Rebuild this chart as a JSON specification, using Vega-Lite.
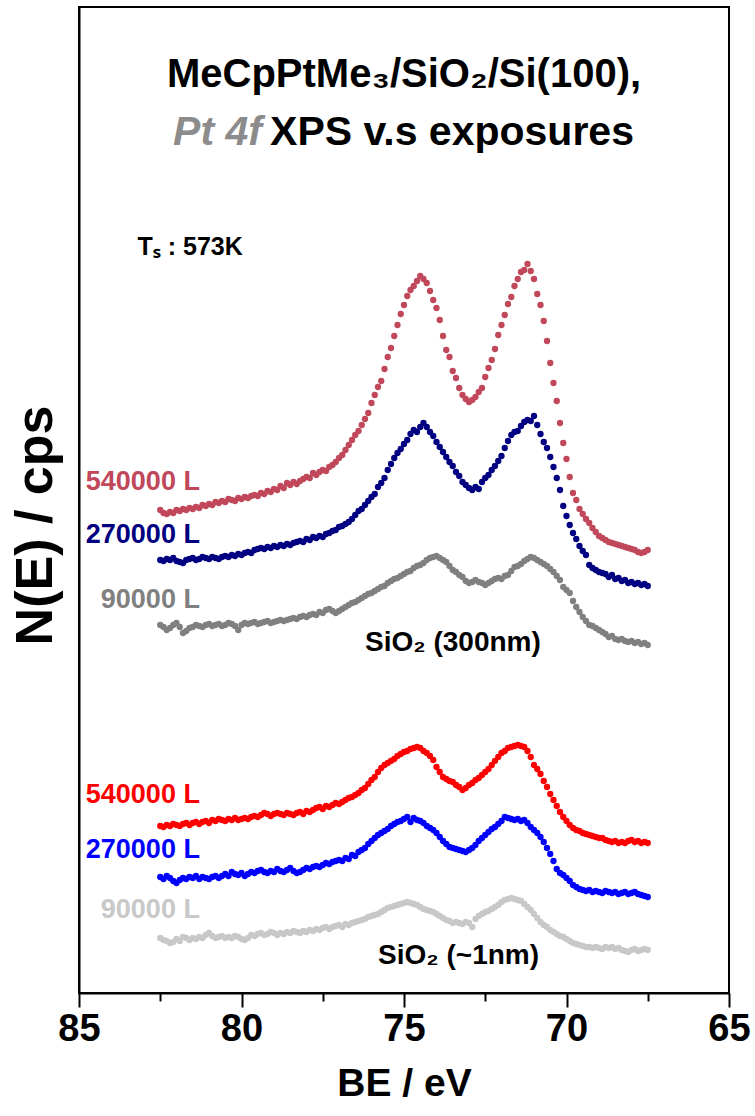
{
"$schema": "https://vega.github.io/schema/vega-lite/v6.json",
"width": 650, "height": 986,
"autosize": {"type": "none"},
"padding": {"left": 79, "top": 7, "right": 26, "bottom": 123},
"background": "white",
"config": {"view": {"stroke": "black", "strokeWidth": 2}},
"datasets": {
"pts": [
{"s":"a","x":82.5,"y":483},{"s":"a","x":82.4,"y":480},{"s":"a","x":82.3,"y":479},{"s":"a","x":82.2,"y":481},{"s":"a","x":82.1,"y":480},{"s":"a","x":82.0,"y":483},{"s":"a","x":81.9,"y":482},{"s":"a","x":81.8,"y":484},{"s":"a","x":81.7,"y":483},{"s":"a","x":81.6,"y":485},{"s":"a","x":81.5,"y":484},{"s":"a","x":81.4,"y":486},{"s":"a","x":81.3,"y":485},{"s":"a","x":81.2,"y":488},{"s":"a","x":81.1,"y":487},{"s":"a","x":81.0,"y":489},{"s":"a","x":80.9,"y":488},{"s":"a","x":80.8,"y":491},{"s":"a","x":80.7,"y":490},{"s":"a","x":80.6,"y":492},{"s":"a","x":80.5,"y":491},{"s":"a","x":80.4,"y":494},{"s":"a","x":80.3,"y":493},{"s":"a","x":80.2,"y":492},{"s":"a","x":80.1,"y":495},{"s":"a","x":80.0,"y":494},{"s":"a","x":79.9,"y":496},{"s":"a","x":79.8,"y":495},{"s":"a","x":79.7,"y":497},{"s":"a","x":79.6,"y":498},{"s":"a","x":79.5,"y":497},{"s":"a","x":79.4,"y":500},{"s":"a","x":79.3,"y":499},{"s":"a","x":79.2,"y":502},{"s":"a","x":79.1,"y":501},{"s":"a","x":79.0,"y":504},{"s":"a","x":78.9,"y":503},{"s":"a","x":78.8,"y":507},{"s":"a","x":78.7,"y":505},{"s":"a","x":78.6,"y":510},{"s":"a","x":78.5,"y":508},{"s":"a","x":78.4,"y":511},{"s":"a","x":78.3,"y":509},{"s":"a","x":78.2,"y":512},{"s":"a","x":78.1,"y":514},{"s":"a","x":78.0,"y":516},{"s":"a","x":77.9,"y":515},{"s":"a","x":77.8,"y":520},{"s":"a","x":77.7,"y":518},{"s":"a","x":77.6,"y":521},{"s":"a","x":77.5,"y":523},{"s":"a","x":77.4,"y":522},{"s":"a","x":77.3,"y":526},{"s":"a","x":77.2,"y":528},{"s":"a","x":77.1,"y":531},{"s":"a","x":77.0,"y":535},{"s":"a","x":76.9,"y":538},{"s":"a","x":76.8,"y":543},{"s":"a","x":76.7,"y":548},{"s":"a","x":76.6,"y":553},{"s":"a","x":76.5,"y":558},{"s":"a","x":76.4,"y":562},{"s":"a","x":76.3,"y":568},{"s":"a","x":76.2,"y":574},{"s":"a","x":76.1,"y":580},{"s":"a","x":76.0,"y":590},{"s":"a","x":75.9,"y":598},{"s":"a","x":75.8,"y":606},{"s":"a","x":75.7,"y":612},{"s":"a","x":75.6,"y":624},{"s":"a","x":75.5,"y":636},{"s":"a","x":75.4,"y":645},{"s":"a","x":75.3,"y":657},{"s":"a","x":75.2,"y":668},{"s":"a","x":75.1,"y":679},{"s":"a","x":75.0,"y":688},{"s":"a","x":74.9,"y":697},{"s":"a","x":74.8,"y":703},{"s":"a","x":74.7,"y":707},{"s":"a","x":74.6,"y":712},{"s":"a","x":74.5,"y":717},{"s":"a","x":74.4,"y":714},{"s":"a","x":74.3,"y":710},{"s":"a","x":74.2,"y":702},{"s":"a","x":74.1,"y":693},{"s":"a","x":74.0,"y":685},{"s":"a","x":73.9,"y":673},{"s":"a","x":73.8,"y":657},{"s":"a","x":73.7,"y":643},{"s":"a","x":73.6,"y":636},{"s":"a","x":73.5,"y":622},{"s":"a","x":73.4,"y":615},{"s":"a","x":73.3,"y":605},{"s":"a","x":73.2,"y":598},{"s":"a","x":73.1,"y":594},{"s":"a","x":73.0,"y":591},{"s":"a","x":72.9,"y":593},{"s":"a","x":72.8,"y":596},{"s":"a","x":72.7,"y":601},{"s":"a","x":72.6,"y":605},{"s":"a","x":72.5,"y":616},{"s":"a","x":72.4,"y":625},{"s":"a","x":72.3,"y":633},{"s":"a","x":72.2,"y":644},{"s":"a","x":72.1,"y":658},{"s":"a","x":72.0,"y":668},{"s":"a","x":71.9,"y":678},{"s":"a","x":71.8,"y":689},{"s":"a","x":71.7,"y":696},{"s":"a","x":71.6,"y":707},{"s":"a","x":71.5,"y":714},{"s":"a","x":71.4,"y":721},{"s":"a","x":71.3,"y":723},{"s":"a","x":71.2,"y":729},{"s":"a","x":71.1,"y":722},{"s":"a","x":71.0,"y":714},{"s":"a","x":70.9,"y":699},{"s":"a","x":70.8,"y":688},{"s":"a","x":70.7,"y":672},{"s":"a","x":70.6,"y":652},{"s":"a","x":70.5,"y":630},{"s":"a","x":70.4,"y":610},{"s":"a","x":70.3,"y":592},{"s":"a","x":70.2,"y":570},{"s":"a","x":70.1,"y":550},{"s":"a","x":70.0,"y":534},{"s":"a","x":69.9,"y":516},{"s":"a","x":69.8,"y":500},{"s":"a","x":69.7,"y":493},{"s":"a","x":69.6,"y":484},{"s":"a","x":69.5,"y":479},{"s":"a","x":69.4,"y":474},{"s":"a","x":69.3,"y":470},{"s":"a","x":69.2,"y":465},{"s":"a","x":69.1,"y":461},{"s":"a","x":69.0,"y":457},{"s":"a","x":68.9,"y":455},{"s":"a","x":68.8,"y":453},{"s":"a","x":68.7,"y":451},{"s":"a","x":68.6,"y":450},{"s":"a","x":68.5,"y":449},{"s":"a","x":68.4,"y":448},{"s":"a","x":68.3,"y":447},{"s":"a","x":68.2,"y":446},{"s":"a","x":68.1,"y":445},{"s":"a","x":68.0,"y":444},{"s":"a","x":67.9,"y":443},{"s":"a","x":67.8,"y":441},{"s":"a","x":67.7,"y":440},{"s":"a","x":67.6,"y":441},{"s":"a","x":67.5,"y":443},
{"s":"b","x":82.5,"y":433},{"s":"b","x":82.4,"y":432},{"s":"b","x":82.3,"y":434},{"s":"b","x":82.2,"y":433},{"s":"b","x":82.1,"y":435},{"s":"b","x":82.0,"y":432},{"s":"b","x":81.9,"y":431},{"s":"b","x":81.8,"y":430},{"s":"b","x":81.7,"y":433},{"s":"b","x":81.6,"y":434},{"s":"b","x":81.5,"y":435},{"s":"b","x":81.4,"y":433},{"s":"b","x":81.3,"y":434},{"s":"b","x":81.2,"y":436},{"s":"b","x":81.1,"y":435},{"s":"b","x":81.0,"y":434},{"s":"b","x":80.9,"y":436},{"s":"b","x":80.8,"y":435},{"s":"b","x":80.7,"y":434},{"s":"b","x":80.6,"y":436},{"s":"b","x":80.5,"y":437},{"s":"b","x":80.4,"y":436},{"s":"b","x":80.3,"y":438},{"s":"b","x":80.2,"y":437},{"s":"b","x":80.1,"y":439},{"s":"b","x":80.0,"y":438},{"s":"b","x":79.9,"y":440},{"s":"b","x":79.8,"y":441},{"s":"b","x":79.7,"y":440},{"s":"b","x":79.6,"y":443},{"s":"b","x":79.5,"y":444},{"s":"b","x":79.4,"y":445},{"s":"b","x":79.3,"y":444},{"s":"b","x":79.2,"y":446},{"s":"b","x":79.1,"y":445},{"s":"b","x":79.0,"y":447},{"s":"b","x":78.9,"y":446},{"s":"b","x":78.8,"y":448},{"s":"b","x":78.7,"y":447},{"s":"b","x":78.6,"y":449},{"s":"b","x":78.5,"y":448},{"s":"b","x":78.4,"y":450},{"s":"b","x":78.3,"y":451},{"s":"b","x":78.2,"y":452},{"s":"b","x":78.1,"y":451},{"s":"b","x":78.0,"y":454},{"s":"b","x":77.9,"y":453},{"s":"b","x":77.8,"y":456},{"s":"b","x":77.7,"y":455},{"s":"b","x":77.6,"y":457},{"s":"b","x":77.5,"y":456},{"s":"b","x":77.4,"y":459},{"s":"b","x":77.3,"y":460},{"s":"b","x":77.2,"y":462},{"s":"b","x":77.1,"y":463},{"s":"b","x":77.0,"y":466},{"s":"b","x":76.9,"y":467},{"s":"b","x":76.8,"y":469},{"s":"b","x":76.7,"y":471},{"s":"b","x":76.6,"y":474},{"s":"b","x":76.5,"y":478},{"s":"b","x":76.4,"y":482},{"s":"b","x":76.3,"y":484},{"s":"b","x":76.2,"y":488},{"s":"b","x":76.1,"y":492},{"s":"b","x":76.0,"y":496},{"s":"b","x":75.9,"y":499},{"s":"b","x":75.8,"y":506},{"s":"b","x":75.7,"y":510},{"s":"b","x":75.6,"y":515},{"s":"b","x":75.5,"y":523},{"s":"b","x":75.4,"y":529},{"s":"b","x":75.3,"y":535},{"s":"b","x":75.2,"y":540},{"s":"b","x":75.1,"y":544},{"s":"b","x":75.0,"y":549},{"s":"b","x":74.9,"y":553},{"s":"b","x":74.8,"y":559},{"s":"b","x":74.7,"y":563},{"s":"b","x":74.6,"y":561},{"s":"b","x":74.5,"y":566},{"s":"b","x":74.4,"y":570},{"s":"b","x":74.3,"y":566},{"s":"b","x":74.2,"y":561},{"s":"b","x":74.1,"y":557},{"s":"b","x":74.0,"y":551},{"s":"b","x":73.9,"y":546},{"s":"b","x":73.8,"y":541},{"s":"b","x":73.7,"y":536},{"s":"b","x":73.6,"y":531},{"s":"b","x":73.5,"y":527},{"s":"b","x":73.4,"y":521},{"s":"b","x":73.3,"y":517},{"s":"b","x":73.2,"y":511},{"s":"b","x":73.1,"y":508},{"s":"b","x":73.0,"y":505},{"s":"b","x":72.9,"y":503},{"s":"b","x":72.8,"y":506},{"s":"b","x":72.7,"y":504},{"s":"b","x":72.6,"y":511},{"s":"b","x":72.5,"y":515},{"s":"b","x":72.4,"y":518},{"s":"b","x":72.3,"y":523},{"s":"b","x":72.2,"y":527},{"s":"b","x":72.1,"y":532},{"s":"b","x":72.0,"y":537},{"s":"b","x":71.9,"y":545},{"s":"b","x":71.8,"y":552},{"s":"b","x":71.7,"y":558},{"s":"b","x":71.6,"y":561},{"s":"b","x":71.5,"y":562},{"s":"b","x":71.4,"y":567},{"s":"b","x":71.3,"y":571},{"s":"b","x":71.2,"y":573},{"s":"b","x":71.1,"y":572},{"s":"b","x":71.0,"y":577},{"s":"b","x":70.9,"y":568},{"s":"b","x":70.8,"y":559},{"s":"b","x":70.7,"y":551},{"s":"b","x":70.6,"y":545},{"s":"b","x":70.5,"y":536},{"s":"b","x":70.4,"y":526},{"s":"b","x":70.3,"y":515},{"s":"b","x":70.2,"y":503},{"s":"b","x":70.1,"y":487},{"s":"b","x":70.0,"y":477},{"s":"b","x":69.9,"y":468},{"s":"b","x":69.8,"y":460},{"s":"b","x":69.7,"y":454},{"s":"b","x":69.6,"y":447},{"s":"b","x":69.5,"y":442},{"s":"b","x":69.4,"y":438},{"s":"b","x":69.3,"y":428},{"s":"b","x":69.2,"y":425},{"s":"b","x":69.1,"y":423},{"s":"b","x":69.0,"y":421},{"s":"b","x":68.9,"y":420},{"s":"b","x":68.8,"y":419},{"s":"b","x":68.7,"y":416},{"s":"b","x":68.6,"y":418},{"s":"b","x":68.5,"y":414},{"s":"b","x":68.4,"y":415},{"s":"b","x":68.3,"y":412},{"s":"b","x":68.2,"y":413},{"s":"b","x":68.1,"y":410},{"s":"b","x":68.0,"y":411},{"s":"b","x":67.9,"y":409},{"s":"b","x":67.8,"y":410},{"s":"b","x":67.7,"y":408},{"s":"b","x":67.6,"y":409},{"s":"b","x":67.5,"y":407},
{"s":"c","x":82.5,"y":368},{"s":"c","x":82.4,"y":366},{"s":"c","x":82.3,"y":363},{"s":"c","x":82.2,"y":365},{"s":"c","x":82.1,"y":368},{"s":"c","x":82.0,"y":370},{"s":"c","x":81.9,"y":366},{"s":"c","x":81.8,"y":360},{"s":"c","x":81.7,"y":362},{"s":"c","x":81.6,"y":365},{"s":"c","x":81.5,"y":366},{"s":"c","x":81.4,"y":368},{"s":"c","x":81.3,"y":367},{"s":"c","x":81.2,"y":366},{"s":"c","x":81.1,"y":368},{"s":"c","x":81.0,"y":369},{"s":"c","x":80.9,"y":367},{"s":"c","x":80.8,"y":368},{"s":"c","x":80.7,"y":369},{"s":"c","x":80.6,"y":367},{"s":"c","x":80.5,"y":368},{"s":"c","x":80.4,"y":370},{"s":"c","x":80.3,"y":369},{"s":"c","x":80.2,"y":367},{"s":"c","x":80.1,"y":363},{"s":"c","x":80.0,"y":368},{"s":"c","x":79.9,"y":370},{"s":"c","x":79.8,"y":369},{"s":"c","x":79.7,"y":370},{"s":"c","x":79.6,"y":371},{"s":"c","x":79.5,"y":369},{"s":"c","x":79.4,"y":370},{"s":"c","x":79.3,"y":371},{"s":"c","x":79.2,"y":372},{"s":"c","x":79.1,"y":370},{"s":"c","x":79.0,"y":371},{"s":"c","x":78.9,"y":372},{"s":"c","x":78.8,"y":373},{"s":"c","x":78.7,"y":372},{"s":"c","x":78.6,"y":373},{"s":"c","x":78.5,"y":374},{"s":"c","x":78.4,"y":375},{"s":"c","x":78.3,"y":374},{"s":"c","x":78.2,"y":376},{"s":"c","x":78.1,"y":377},{"s":"c","x":78.0,"y":376},{"s":"c","x":77.9,"y":378},{"s":"c","x":77.8,"y":379},{"s":"c","x":77.7,"y":378},{"s":"c","x":77.6,"y":381},{"s":"c","x":77.5,"y":380},{"s":"c","x":77.4,"y":383},{"s":"c","x":77.3,"y":384},{"s":"c","x":77.2,"y":382},{"s":"c","x":77.1,"y":380},{"s":"c","x":77.0,"y":382},{"s":"c","x":76.9,"y":384},{"s":"c","x":76.8,"y":386},{"s":"c","x":76.7,"y":388},{"s":"c","x":76.6,"y":390},{"s":"c","x":76.5,"y":391},{"s":"c","x":76.4,"y":393},{"s":"c","x":76.3,"y":395},{"s":"c","x":76.2,"y":397},{"s":"c","x":76.1,"y":399},{"s":"c","x":76.0,"y":400},{"s":"c","x":75.9,"y":402},{"s":"c","x":75.8,"y":404},{"s":"c","x":75.7,"y":406},{"s":"c","x":75.6,"y":407},{"s":"c","x":75.5,"y":410},{"s":"c","x":75.4,"y":412},{"s":"c","x":75.3,"y":414},{"s":"c","x":75.2,"y":415},{"s":"c","x":75.1,"y":417},{"s":"c","x":75.0,"y":419},{"s":"c","x":74.9,"y":421},{"s":"c","x":74.8,"y":422},{"s":"c","x":74.7,"y":425},{"s":"c","x":74.6,"y":427},{"s":"c","x":74.5,"y":428},{"s":"c","x":74.4,"y":430},{"s":"c","x":74.3,"y":433},{"s":"c","x":74.2,"y":435},{"s":"c","x":74.1,"y":436},{"s":"c","x":74.0,"y":437},{"s":"c","x":73.9,"y":435},{"s":"c","x":73.8,"y":433},{"s":"c","x":73.7,"y":431},{"s":"c","x":73.6,"y":427},{"s":"c","x":73.5,"y":423},{"s":"c","x":73.4,"y":421},{"s":"c","x":73.3,"y":418},{"s":"c","x":73.2,"y":416},{"s":"c","x":73.1,"y":412},{"s":"c","x":73.0,"y":410},{"s":"c","x":72.9,"y":411},{"s":"c","x":72.8,"y":413},{"s":"c","x":72.7,"y":411},{"s":"c","x":72.6,"y":410},{"s":"c","x":72.5,"y":408},{"s":"c","x":72.4,"y":410},{"s":"c","x":72.3,"y":412},{"s":"c","x":72.2,"y":414},{"s":"c","x":72.1,"y":415},{"s":"c","x":72.0,"y":414},{"s":"c","x":71.9,"y":417},{"s":"c","x":71.8,"y":418},{"s":"c","x":71.7,"y":422},{"s":"c","x":71.6,"y":426},{"s":"c","x":71.5,"y":427},{"s":"c","x":71.4,"y":429},{"s":"c","x":71.3,"y":432},{"s":"c","x":71.2,"y":434},{"s":"c","x":71.1,"y":436},{"s":"c","x":71.0,"y":435},{"s":"c","x":70.9,"y":433},{"s":"c","x":70.8,"y":431},{"s":"c","x":70.7,"y":429},{"s":"c","x":70.6,"y":427},{"s":"c","x":70.5,"y":424},{"s":"c","x":70.4,"y":421},{"s":"c","x":70.3,"y":417},{"s":"c","x":70.2,"y":413},{"s":"c","x":70.1,"y":406},{"s":"c","x":70.0,"y":403},{"s":"c","x":69.9,"y":400},{"s":"c","x":69.8,"y":392},{"s":"c","x":69.7,"y":386},{"s":"c","x":69.6,"y":381},{"s":"c","x":69.5,"y":376},{"s":"c","x":69.4,"y":372},{"s":"c","x":69.3,"y":368},{"s":"c","x":69.2,"y":367},{"s":"c","x":69.1,"y":365},{"s":"c","x":69.0,"y":363},{"s":"c","x":68.9,"y":361},{"s":"c","x":68.8,"y":359},{"s":"c","x":68.7,"y":356},{"s":"c","x":68.6,"y":357},{"s":"c","x":68.5,"y":354},{"s":"c","x":68.4,"y":353},{"s":"c","x":68.3,"y":354},{"s":"c","x":68.2,"y":352},{"s":"c","x":68.1,"y":351},{"s":"c","x":68.0,"y":352},{"s":"c","x":67.9,"y":350},{"s":"c","x":67.8,"y":351},{"s":"c","x":67.7,"y":349},{"s":"c","x":67.6,"y":350},{"s":"c","x":67.5,"y":348},
{"s":"d","x":82.5,"y":167},{"s":"d","x":82.4,"y":166},{"s":"d","x":82.3,"y":168},{"s":"d","x":82.2,"y":167},{"s":"d","x":82.1,"y":169},{"s":"d","x":82.0,"y":168},{"s":"d","x":81.9,"y":167},{"s":"d","x":81.8,"y":169},{"s":"d","x":81.7,"y":170},{"s":"d","x":81.6,"y":168},{"s":"d","x":81.5,"y":170},{"s":"d","x":81.4,"y":171},{"s":"d","x":81.3,"y":169},{"s":"d","x":81.2,"y":171},{"s":"d","x":81.1,"y":172},{"s":"d","x":81.0,"y":170},{"s":"d","x":80.9,"y":173},{"s":"d","x":80.8,"y":172},{"s":"d","x":80.7,"y":174},{"s":"d","x":80.6,"y":173},{"s":"d","x":80.5,"y":172},{"s":"d","x":80.4,"y":174},{"s":"d","x":80.3,"y":173},{"s":"d","x":80.2,"y":175},{"s":"d","x":80.1,"y":173},{"s":"d","x":80.0,"y":174},{"s":"d","x":79.9,"y":175},{"s":"d","x":79.8,"y":174},{"s":"d","x":79.7,"y":176},{"s":"d","x":79.6,"y":177},{"s":"d","x":79.5,"y":176},{"s":"d","x":79.4,"y":178},{"s":"d","x":79.3,"y":180},{"s":"d","x":79.2,"y":179},{"s":"d","x":79.1,"y":177},{"s":"d","x":79.0,"y":179},{"s":"d","x":78.9,"y":180},{"s":"d","x":78.8,"y":179},{"s":"d","x":78.7,"y":178},{"s":"d","x":78.6,"y":180},{"s":"d","x":78.5,"y":179},{"s":"d","x":78.4,"y":178},{"s":"d","x":78.3,"y":180},{"s":"d","x":78.2,"y":181},{"s":"d","x":78.1,"y":179},{"s":"d","x":78.0,"y":182},{"s":"d","x":77.9,"y":181},{"s":"d","x":77.8,"y":183},{"s":"d","x":77.7,"y":185},{"s":"d","x":77.6,"y":186},{"s":"d","x":77.5,"y":184},{"s":"d","x":77.4,"y":187},{"s":"d","x":77.3,"y":186},{"s":"d","x":77.2,"y":188},{"s":"d","x":77.1,"y":190},{"s":"d","x":77.0,"y":189},{"s":"d","x":76.9,"y":191},{"s":"d","x":76.8,"y":193},{"s":"d","x":76.7,"y":195},{"s":"d","x":76.6,"y":196},{"s":"d","x":76.5,"y":198},{"s":"d","x":76.4,"y":200},{"s":"d","x":76.3,"y":203},{"s":"d","x":76.2,"y":205},{"s":"d","x":76.1,"y":209},{"s":"d","x":76.0,"y":213},{"s":"d","x":75.9,"y":216},{"s":"d","x":75.8,"y":221},{"s":"d","x":75.7,"y":225},{"s":"d","x":75.6,"y":228},{"s":"d","x":75.5,"y":230},{"s":"d","x":75.4,"y":232},{"s":"d","x":75.3,"y":234},{"s":"d","x":75.2,"y":237},{"s":"d","x":75.1,"y":239},{"s":"d","x":75.0,"y":241},{"s":"d","x":74.9,"y":242},{"s":"d","x":74.8,"y":244},{"s":"d","x":74.7,"y":245},{"s":"d","x":74.6,"y":246},{"s":"d","x":74.5,"y":245},{"s":"d","x":74.4,"y":242},{"s":"d","x":74.3,"y":240},{"s":"d","x":74.2,"y":237},{"s":"d","x":74.1,"y":233},{"s":"d","x":74.0,"y":226},{"s":"d","x":73.9,"y":221},{"s":"d","x":73.8,"y":216},{"s":"d","x":73.7,"y":214},{"s":"d","x":73.6,"y":212},{"s":"d","x":73.5,"y":211},{"s":"d","x":73.4,"y":208},{"s":"d","x":73.3,"y":206},{"s":"d","x":73.2,"y":203},{"s":"d","x":73.1,"y":205},{"s":"d","x":73.0,"y":208},{"s":"d","x":72.9,"y":210},{"s":"d","x":72.8,"y":213},{"s":"d","x":72.7,"y":215},{"s":"d","x":72.6,"y":218},{"s":"d","x":72.5,"y":221},{"s":"d","x":72.4,"y":224},{"s":"d","x":72.3,"y":228},{"s":"d","x":72.2,"y":232},{"s":"d","x":72.1,"y":236},{"s":"d","x":72.0,"y":240},{"s":"d","x":71.9,"y":242},{"s":"d","x":71.8,"y":245},{"s":"d","x":71.7,"y":246},{"s":"d","x":71.6,"y":247},{"s":"d","x":71.5,"y":248},{"s":"d","x":71.4,"y":247},{"s":"d","x":71.3,"y":246},{"s":"d","x":71.2,"y":242},{"s":"d","x":71.1,"y":236},{"s":"d","x":71.0,"y":228},{"s":"d","x":70.9,"y":224},{"s":"d","x":70.8,"y":219},{"s":"d","x":70.7,"y":212},{"s":"d","x":70.6,"y":206},{"s":"d","x":70.5,"y":199},{"s":"d","x":70.4,"y":193},{"s":"d","x":70.3,"y":187},{"s":"d","x":70.2,"y":181},{"s":"d","x":70.1,"y":176},{"s":"d","x":70.0,"y":172},{"s":"d","x":69.9,"y":168},{"s":"d","x":69.8,"y":165},{"s":"d","x":69.7,"y":163},{"s":"d","x":69.6,"y":162},{"s":"d","x":69.5,"y":160},{"s":"d","x":69.4,"y":159},{"s":"d","x":69.3,"y":158},{"s":"d","x":69.2,"y":157},{"s":"d","x":69.1,"y":156},{"s":"d","x":69.0,"y":155},{"s":"d","x":68.9,"y":155},{"s":"d","x":68.8,"y":153},{"s":"d","x":68.7,"y":152},{"s":"d","x":68.6,"y":151},{"s":"d","x":68.5,"y":152},{"s":"d","x":68.4,"y":150},{"s":"d","x":68.3,"y":151},{"s":"d","x":68.2,"y":150},{"s":"d","x":68.1,"y":152},{"s":"d","x":68.0,"y":153},{"s":"d","x":67.9,"y":151},{"s":"d","x":67.8,"y":152},{"s":"d","x":67.7,"y":150},{"s":"d","x":67.6,"y":151},{"s":"d","x":67.5,"y":150},
{"s":"e","x":82.5,"y":116},{"s":"e","x":82.4,"y":114},{"s":"e","x":82.3,"y":117},{"s":"e","x":82.2,"y":115},{"s":"e","x":82.1,"y":112},{"s":"e","x":82.0,"y":110},{"s":"e","x":81.9,"y":113},{"s":"e","x":81.8,"y":115},{"s":"e","x":81.7,"y":114},{"s":"e","x":81.6,"y":116},{"s":"e","x":81.5,"y":115},{"s":"e","x":81.4,"y":117},{"s":"e","x":81.3,"y":114},{"s":"e","x":81.2,"y":116},{"s":"e","x":81.1,"y":115},{"s":"e","x":81.0,"y":114},{"s":"e","x":80.9,"y":116},{"s":"e","x":80.8,"y":117},{"s":"e","x":80.7,"y":115},{"s":"e","x":80.6,"y":117},{"s":"e","x":80.5,"y":119},{"s":"e","x":80.4,"y":117},{"s":"e","x":80.3,"y":121},{"s":"e","x":80.2,"y":119},{"s":"e","x":80.1,"y":118},{"s":"e","x":80.0,"y":120},{"s":"e","x":79.9,"y":117},{"s":"e","x":79.8,"y":119},{"s":"e","x":79.7,"y":121},{"s":"e","x":79.6,"y":120},{"s":"e","x":79.5,"y":122},{"s":"e","x":79.4,"y":123},{"s":"e","x":79.3,"y":121},{"s":"e","x":79.2,"y":120},{"s":"e","x":79.1,"y":122},{"s":"e","x":79.0,"y":121},{"s":"e","x":78.9,"y":124},{"s":"e","x":78.8,"y":122},{"s":"e","x":78.7,"y":121},{"s":"e","x":78.6,"y":123},{"s":"e","x":78.5,"y":125},{"s":"e","x":78.4,"y":122},{"s":"e","x":78.3,"y":120},{"s":"e","x":78.2,"y":121},{"s":"e","x":78.1,"y":123},{"s":"e","x":78.0,"y":125},{"s":"e","x":77.9,"y":124},{"s":"e","x":77.8,"y":126},{"s":"e","x":77.7,"y":127},{"s":"e","x":77.6,"y":126},{"s":"e","x":77.5,"y":128},{"s":"e","x":77.4,"y":130},{"s":"e","x":77.3,"y":129},{"s":"e","x":77.2,"y":131},{"s":"e","x":77.1,"y":132},{"s":"e","x":77.0,"y":133},{"s":"e","x":76.9,"y":132},{"s":"e","x":76.8,"y":135},{"s":"e","x":76.7,"y":134},{"s":"e","x":76.6,"y":138},{"s":"e","x":76.5,"y":137},{"s":"e","x":76.4,"y":141},{"s":"e","x":76.3,"y":143},{"s":"e","x":76.2,"y":145},{"s":"e","x":76.1,"y":149},{"s":"e","x":76.0,"y":152},{"s":"e","x":75.9,"y":155},{"s":"e","x":75.8,"y":158},{"s":"e","x":75.7,"y":160},{"s":"e","x":75.6,"y":162},{"s":"e","x":75.5,"y":164},{"s":"e","x":75.4,"y":167},{"s":"e","x":75.3,"y":169},{"s":"e","x":75.2,"y":171},{"s":"e","x":75.1,"y":172},{"s":"e","x":75.0,"y":174},{"s":"e","x":74.9,"y":176},{"s":"e","x":74.8,"y":171},{"s":"e","x":74.7,"y":175},{"s":"e","x":74.6,"y":173},{"s":"e","x":74.5,"y":172},{"s":"e","x":74.4,"y":170},{"s":"e","x":74.3,"y":167},{"s":"e","x":74.2,"y":165},{"s":"e","x":74.1,"y":163},{"s":"e","x":74.0,"y":160},{"s":"e","x":73.9,"y":156},{"s":"e","x":73.8,"y":152},{"s":"e","x":73.7,"y":149},{"s":"e","x":73.6,"y":146},{"s":"e","x":73.5,"y":145},{"s":"e","x":73.4,"y":144},{"s":"e","x":73.3,"y":143},{"s":"e","x":73.2,"y":142},{"s":"e","x":73.1,"y":141},{"s":"e","x":73.0,"y":143},{"s":"e","x":72.9,"y":145},{"s":"e","x":72.8,"y":148},{"s":"e","x":72.7,"y":152},{"s":"e","x":72.6,"y":155},{"s":"e","x":72.5,"y":158},{"s":"e","x":72.4,"y":161},{"s":"e","x":72.3,"y":164},{"s":"e","x":72.2,"y":166},{"s":"e","x":72.1,"y":169},{"s":"e","x":72.0,"y":172},{"s":"e","x":71.9,"y":176},{"s":"e","x":71.8,"y":175},{"s":"e","x":71.7,"y":174},{"s":"e","x":71.6,"y":173},{"s":"e","x":71.5,"y":174},{"s":"e","x":71.4,"y":172},{"s":"e","x":71.3,"y":173},{"s":"e","x":71.2,"y":170},{"s":"e","x":71.1,"y":166},{"s":"e","x":71.0,"y":163},{"s":"e","x":70.9,"y":160},{"s":"e","x":70.8,"y":156},{"s":"e","x":70.7,"y":151},{"s":"e","x":70.6,"y":145},{"s":"e","x":70.5,"y":139},{"s":"e","x":70.4,"y":132},{"s":"e","x":70.3,"y":124},{"s":"e","x":70.2,"y":120},{"s":"e","x":70.1,"y":118},{"s":"e","x":70.0,"y":115},{"s":"e","x":69.9,"y":112},{"s":"e","x":69.8,"y":108},{"s":"e","x":69.7,"y":106},{"s":"e","x":69.6,"y":104},{"s":"e","x":69.5,"y":103},{"s":"e","x":69.4,"y":102},{"s":"e","x":69.3,"y":103},{"s":"e","x":69.2,"y":101},{"s":"e","x":69.1,"y":102},{"s":"e","x":69.0,"y":101},{"s":"e","x":68.9,"y":100},{"s":"e","x":68.8,"y":102},{"s":"e","x":68.7,"y":101},{"s":"e","x":68.6,"y":100},{"s":"e","x":68.5,"y":101},{"s":"e","x":68.4,"y":99},{"s":"e","x":68.3,"y":100},{"s":"e","x":68.2,"y":101},{"s":"e","x":68.1,"y":99},{"s":"e","x":68.0,"y":100},{"s":"e","x":67.9,"y":101},{"s":"e","x":67.8,"y":99},{"s":"e","x":67.7,"y":98},{"s":"e","x":67.6,"y":97},{"s":"e","x":67.5,"y":96},
{"s":"f","x":82.5,"y":55},{"s":"f","x":82.4,"y":53},{"s":"f","x":82.3,"y":52},{"s":"f","x":82.2,"y":50},{"s":"f","x":82.1,"y":51},{"s":"f","x":82.0,"y":54},{"s":"f","x":81.9,"y":52},{"s":"f","x":81.8,"y":56},{"s":"f","x":81.7,"y":55},{"s":"f","x":81.6,"y":53},{"s":"f","x":81.5,"y":55},{"s":"f","x":81.4,"y":54},{"s":"f","x":81.3,"y":56},{"s":"f","x":81.2,"y":55},{"s":"f","x":81.1,"y":58},{"s":"f","x":81.0,"y":60},{"s":"f","x":80.9,"y":57},{"s":"f","x":80.8,"y":55},{"s":"f","x":80.7,"y":56},{"s":"f","x":80.6,"y":57},{"s":"f","x":80.5,"y":55},{"s":"f","x":80.4,"y":56},{"s":"f","x":80.3,"y":55},{"s":"f","x":80.2,"y":57},{"s":"f","x":80.1,"y":56},{"s":"f","x":80.0,"y":54},{"s":"f","x":79.9,"y":53},{"s":"f","x":79.8,"y":55},{"s":"f","x":79.7,"y":58},{"s":"f","x":79.6,"y":57},{"s":"f","x":79.5,"y":59},{"s":"f","x":79.4,"y":60},{"s":"f","x":79.3,"y":58},{"s":"f","x":79.2,"y":59},{"s":"f","x":79.1,"y":61},{"s":"f","x":79.0,"y":60},{"s":"f","x":78.9,"y":58},{"s":"f","x":78.8,"y":60},{"s":"f","x":78.7,"y":59},{"s":"f","x":78.6,"y":61},{"s":"f","x":78.5,"y":60},{"s":"f","x":78.4,"y":62},{"s":"f","x":78.3,"y":61},{"s":"f","x":78.2,"y":60},{"s":"f","x":78.1,"y":62},{"s":"f","x":78.0,"y":61},{"s":"f","x":77.9,"y":63},{"s":"f","x":77.8,"y":62},{"s":"f","x":77.7,"y":64},{"s":"f","x":77.6,"y":63},{"s":"f","x":77.5,"y":65},{"s":"f","x":77.4,"y":66},{"s":"f","x":77.3,"y":64},{"s":"f","x":77.2,"y":66},{"s":"f","x":77.1,"y":67},{"s":"f","x":77.0,"y":68},{"s":"f","x":76.9,"y":66},{"s":"f","x":76.8,"y":69},{"s":"f","x":76.7,"y":68},{"s":"f","x":76.6,"y":70},{"s":"f","x":76.5,"y":71},{"s":"f","x":76.4,"y":72},{"s":"f","x":76.3,"y":73},{"s":"f","x":76.2,"y":74},{"s":"f","x":76.1,"y":76},{"s":"f","x":76.0,"y":77},{"s":"f","x":75.9,"y":78},{"s":"f","x":75.8,"y":79},{"s":"f","x":75.7,"y":81},{"s":"f","x":75.6,"y":83},{"s":"f","x":75.5,"y":85},{"s":"f","x":75.4,"y":86},{"s":"f","x":75.3,"y":87},{"s":"f","x":75.2,"y":88},{"s":"f","x":75.1,"y":89},{"s":"f","x":75.0,"y":90},{"s":"f","x":74.9,"y":91},{"s":"f","x":74.8,"y":90},{"s":"f","x":74.7,"y":89},{"s":"f","x":74.6,"y":88},{"s":"f","x":74.5,"y":86},{"s":"f","x":74.4,"y":84},{"s":"f","x":74.3,"y":83},{"s":"f","x":74.2,"y":82},{"s":"f","x":74.1,"y":81},{"s":"f","x":74.0,"y":79},{"s":"f","x":73.9,"y":77},{"s":"f","x":73.8,"y":75},{"s":"f","x":73.7,"y":73},{"s":"f","x":73.6,"y":72},{"s":"f","x":73.5,"y":70},{"s":"f","x":73.4,"y":71},{"s":"f","x":73.3,"y":70},{"s":"f","x":73.2,"y":69},{"s":"f","x":73.1,"y":71},{"s":"f","x":73.0,"y":70},{"s":"f","x":72.9,"y":66},{"s":"f","x":72.8,"y":74},{"s":"f","x":72.7,"y":77},{"s":"f","x":72.6,"y":79},{"s":"f","x":72.5,"y":81},{"s":"f","x":72.4,"y":82},{"s":"f","x":72.3,"y":84},{"s":"f","x":72.2,"y":86},{"s":"f","x":72.1,"y":88},{"s":"f","x":72.0,"y":91},{"s":"f","x":71.9,"y":93},{"s":"f","x":71.8,"y":94},{"s":"f","x":71.7,"y":95},{"s":"f","x":71.6,"y":94},{"s":"f","x":71.5,"y":93},{"s":"f","x":71.4,"y":92},{"s":"f","x":71.3,"y":89},{"s":"f","x":71.2,"y":86},{"s":"f","x":71.1,"y":83},{"s":"f","x":71.0,"y":79},{"s":"f","x":70.9,"y":75},{"s":"f","x":70.8,"y":71},{"s":"f","x":70.7,"y":68},{"s":"f","x":70.6,"y":66},{"s":"f","x":70.5,"y":63},{"s":"f","x":70.4,"y":61},{"s":"f","x":70.3,"y":59},{"s":"f","x":70.2,"y":57},{"s":"f","x":70.1,"y":56},{"s":"f","x":70.0,"y":54},{"s":"f","x":69.9,"y":52},{"s":"f","x":69.8,"y":50},{"s":"f","x":69.7,"y":49},{"s":"f","x":69.6,"y":48},{"s":"f","x":69.5,"y":47},{"s":"f","x":69.4,"y":46},{"s":"f","x":69.3,"y":46},{"s":"f","x":69.2,"y":45},{"s":"f","x":69.1,"y":46},{"s":"f","x":69.0,"y":45},{"s":"f","x":68.9,"y":44},{"s":"f","x":68.8,"y":46},{"s":"f","x":68.7,"y":45},{"s":"f","x":68.6,"y":46},{"s":"f","x":68.5,"y":44},{"s":"f","x":68.4,"y":45},{"s":"f","x":68.3,"y":43},{"s":"f","x":68.2,"y":42},{"s":"f","x":68.1,"y":41},{"s":"f","x":68.0,"y":43},{"s":"f","x":67.9,"y":44},{"s":"f","x":67.8,"y":42},{"s":"f","x":67.7,"y":43},{"s":"f","x":67.6,"y":44},{"s":"f","x":67.5,"y":43}
],
"labels": [
{"s":"a","t":"540000 L","x":81.28,"y":511},
{"s":"b","t":"270000 L","x":81.28,"y":458},
{"s":"c","t":"90000 L","x":81.28,"y":393},
{"s":"d","t":"540000 L","x":81.28,"y":198},
{"s":"e","t":"270000 L","x":81.28,"y":143},
{"s":"f","t":"90000 L","x":81.28,"y":83}
],
"sio2": [
{"t":"SiO₂ (300nm)","x":76.2,"y":350},
{"t":"SiO₂ (~1nm)","x":75.8,"y":37}
],
"ticksMinor": [{"x":82.5},{"x":77.5},{"x":72.5},{"x":67.5}]
},
"resolve": {"axis": {"x": "independent", "y": "independent"}},
"layer": [
{
"data": {"name": "pts"},
"mark": {"type": "circle", "size": 40, "opacity": 1},
"encoding": {
"x": {"field": "x", "type": "quantitative",
"scale": {"domain": [85, 65], "nice": false, "zero": false},
"axis": {"orient": "bottom", "values": [85, 80, 75, 70, 65], "format": "d", "grid": false,
"domainColor": "black", "domainWidth": 2, "tickColor": "black", "tickWidth": 2, "tickSize": 14,
"labelFont": "Liberation Sans", "labelFontSize": 38, "labelFontWeight": "bold", "labelColor": "black",
"labelPadding": 3, "labelFlush": false, "labelOverlap": false,
"title": "BE / eV", "titleFont": "Liberation Sans", "titleFontSize": 39, "titleFontWeight": "bold", "titleColor": "black", "titlePadding": 16}},
"y": {"field": "y", "type": "quantitative",
"scale": {"domain": [0, 986], "nice": false, "zero": false},
"axis": {"orient": "left", "ticks": false, "labels": false, "grid": false, "domainColor": "black", "domainWidth": 2,
"title": "N(E) / cps", "titleFont": "Liberation Sans", "titleFontSize": 52, "titleFontWeight": "bold", "titleColor": "black",
"titleX": -44, "titleY": 518, "titleAngle": 270, "titleAlign": "center", "titleBaseline": "middle"}},
"color": {"field": "s", "type": "nominal",
"scale": {"domain": ["a","b","c","d","e","f"], "range": ["#C0485A","#000080","#808080","#FF0000","#0000FF","#C8C8C8"]},
"legend": null}
}
},
{
"data": {"name": "ticksMinor"},
"mark": {"type": "point", "opacity": 0},
"encoding": {
"x": {"field": "x", "type": "quantitative",
"axis": {"orient": "bottom", "values": [82.5, 77.5, 72.5, 67.5], "labels": false, "domain": false, "grid": false,
"tickColor": "black", "tickWidth": 2, "tickSize": 8, "title": null}},
"y": {"datum": 500, "type": "quantitative", "axis": null}
}
},
{
"data": {"name": "labels"},
"mark": {"type": "text", "align": "right", "baseline": "middle", "font": "Liberation Sans", "fontSize": 27, "fontWeight": "bold"},
"encoding": {
"x": {"field": "x", "type": "quantitative", "axis": null},
"y": {"field": "y", "type": "quantitative", "axis": null},
"text": {"field": "t"},
"color": {"field": "s", "type": "nominal", "legend": null}
}
},
{
"data": {"name": "sio2"},
"mark": {"type": "text", "align": "left", "baseline": "middle", "font": "Liberation Sans", "fontSize": 28, "fontWeight": "bold", "color": "black"},
"encoding": {
"x": {"field": "x", "type": "quantitative", "axis": null},
"y": {"field": "y", "type": "quantitative", "axis": null},
"text": {"field": "t"}
}
},
{
"data": {"values": [{"t":"MeCpPtMe₃/SiO₂/Si(100),","x":75.0,"y":918}]},
"mark": {"type": "text", "align": "center", "baseline": "middle", "font": "Liberation Sans", "fontSize": 40, "fontWeight": "bold", "color": "black"},
"encoding": {
"x": {"field": "x", "type": "quantitative", "axis": null},
"y": {"field": "y", "type": "quantitative", "axis": null},
"text": {"field": "t"}
}
},
{
"data": {"values": [{"t":"Pt 4f","x":79.37,"y":860}]},
"mark": {"type": "text", "align": "right", "baseline": "middle", "font": "Liberation Sans", "fontSize": 41, "fontWeight": "bold", "fontStyle": "italic", "color": "#8C8C8C"},
"encoding": {
"x": {"field": "x", "type": "quantitative", "axis": null},
"y": {"field": "y", "type": "quantitative", "axis": null},
"text": {"field": "t"}
}
},
{
"data": {"values": [{"t":"XPS v.s exposures","x":79.12,"y":860}]},
"mark": {"type": "text", "align": "left", "baseline": "middle", "font": "Liberation Sans", "fontSize": 41, "fontWeight": "bold", "color": "black"},
"encoding": {
"x": {"field": "x", "type": "quantitative", "axis": null},
"y": {"field": "y", "type": "quantitative", "axis": null},
"text": {"field": "t"}
}
},
{
"data": {"values": [{"t":"Tₛ : 573K","x":83.2,"y":746}]},
"mark": {"type": "text", "align": "left", "baseline": "middle", "font": "Liberation Sans", "fontSize": 25, "fontWeight": "bold", "color": "black"},
"encoding": {
"x": {"field": "x", "type": "quantitative", "axis": null},
"y": {"field": "y", "type": "quantitative", "axis": null},
"text": {"field": "t"}
}
}
]
}
